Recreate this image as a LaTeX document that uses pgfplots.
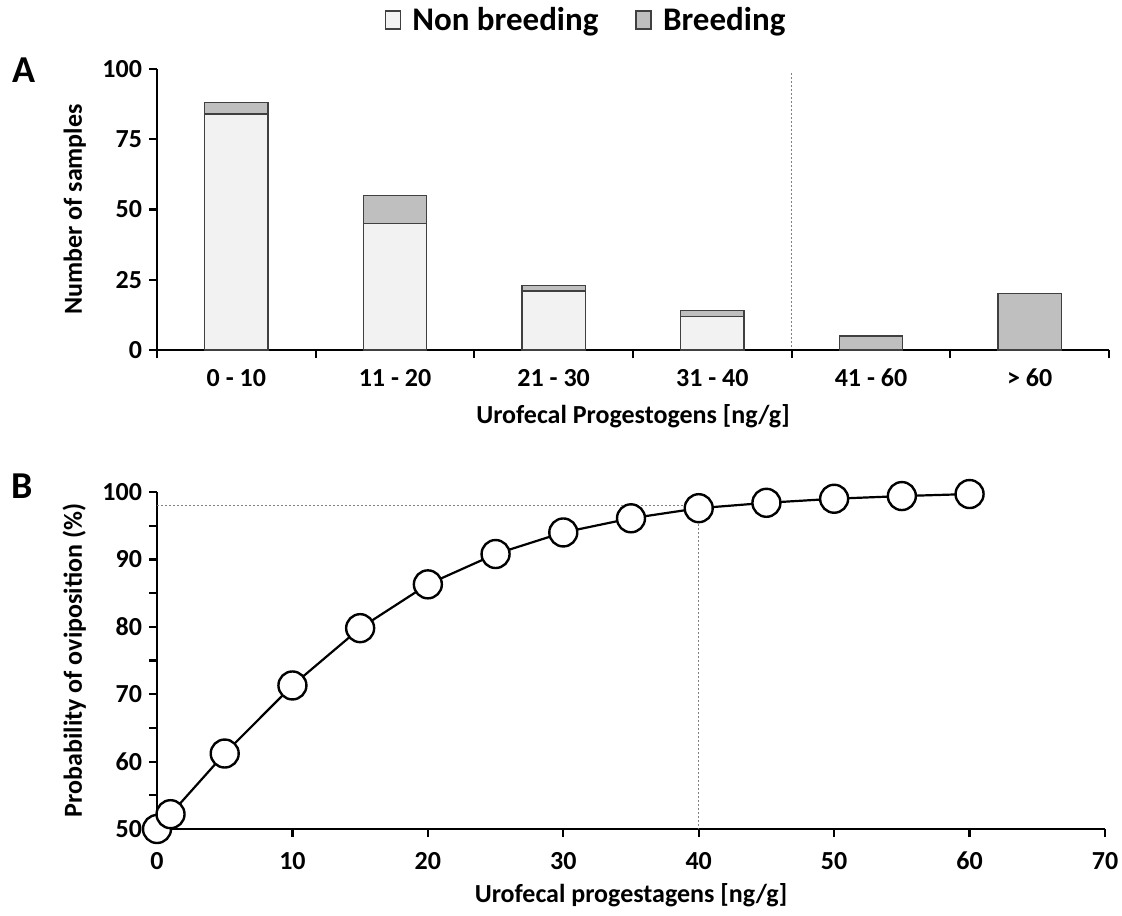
\documentclass[border=0pt]{standalone}
\usepackage{pgfplots}
\pgfplotsset{compat=1.18}
\usepackage{fontspec}
\setmainfont{Carlito}
\definecolor{nb}{HTML}{F2F2F2}
\definecolor{br}{HTML}{BFBFBF}
\definecolor{bd}{HTML}{404040}
\begin{document}
\begin{tikzpicture}[x=1pt,y=1pt]
\pgfplotsset{
  every axis/.style={
    scale only axis,
    axis lines*=left,
    axis line style={line width=1.3pt},
    tick style={line width=1.1pt, black},
    tick align=outside,
    major tick length=4pt,
    tick label style={font=\fontsize{13}{15}\selectfont\bfseries},
    label style={font=\fontsize{13}{15}\selectfont\bfseries},
    /pgf/number format/assume math mode=true,
  }
}
% Panel A
\begin{axis}[
  at={(78.5pt,-175pt)}, anchor=south west,
  width=476pt, height=140.5pt,
  xmin=0, xmax=6, ymin=0, ymax=100,
  ytick={0,25,50,75,100},
  xtick={0,1,2,3,4,5,6},
  xticklabels={},
  extra x ticks={0.5,1.5,2.5,3.5,4.5,5.5},
  extra x tick labels={0 - 10,11 - 20,21 - 30,31 - 40,41 - 60,> 60},
  extra x tick style={major tick length=0pt},
  ybar stacked, bar width=0.4,
  ylabel={Number of samples},
  xlabel={Urofecal Progestogens [ng/g]},
  ylabel style={at={(axis description cs:0,0.5)}, anchor=south, yshift=32pt},
  xlabel style={yshift=2pt},
  xticklabel style={yshift=-6pt},
  legend style={draw=none, fill=none, legend columns=2, at={(0.5,1)}, anchor=center,
    xshift=-23pt, yshift=24.5pt,
    font=\fontsize{16.5}{18}\selectfont\bfseries,
    /tikz/every even column/.append style={column sep=16.5pt}},
  legend image code/.code={\draw[#1, draw=bd, line width=0.7pt] (0pt,-4.5pt) rectangle (7.5pt,4.5pt);
    \path[draw=none, fill=none] (7.5pt,0pt) -- (11.5pt,0pt);},
  clip=false,
]
\addplot[fill=nb, draw=bd, line width=0.6pt] coordinates {(0.5,84) (1.5,45) (2.5,21) (3.5,12) (4.5,0) (5.5,0)};
\addlegendentry{Non breeding}
\addplot[fill=br, draw=bd, line width=0.6pt] coordinates {(0.5,4) (1.5,10) (2.5,2) (3.5,2) (4.5,5) (5.5,20)};
\addlegendentry{Breeding}
\end{axis}
\begin{axis}[
  at={(78.5pt,-175pt)}, anchor=south west,
  width=476pt, height=140.5pt,
  xmin=0, xmax=6, ymin=0, ymax=100,
  axis lines=none, clip=false,
]
\addplot[gray, dash pattern=on 1pt off 1pt, line width=0.5pt] coordinates {(4,1) (4,99)};
\end{axis}
% Panel B
\begin{axis}[
  at={(78.5pt,-414.5pt)}, anchor=south west,
  width=474pt, height=168.5pt,
  xmin=0, xmax=70, ymin=50, ymax=100,
  xtick={0,10,...,70},
  ytick={50,55,...,100},
  yticklabels={50,,60,,70,,80,,90,,100},
  ylabel={Probability of oviposition (\%)},
  xlabel={Urofecal progestagens [ng/g]},
  ylabel style={at={(axis description cs:0,0.5)}, anchor=south, yshift=32pt},
  xlabel style={yshift=0pt},
  xticklabel style={yshift=-4pt},
  clip=false,
]
\addplot[gray, dash pattern=on 1pt off 1pt, line width=0.5pt] coordinates {(0,98) (40,98) (40,50)};
\addplot[black, line width=1.1pt, mark=*, mark size=7pt,
  mark options={fill=white, draw=black, line width=1.2pt}]
  coordinates {(0,50) (1,52.2) (5,61.2) (10,71.3) (15,79.8) (20,86.3) (25,90.8) (30,94.0) (35,96.1) (40,97.6) (45,98.4) (50,99.0) (55,99.4) (60,99.7)};
\end{axis}
\node[font=\fontsize{19}{21}\selectfont\bfseries] at (12pt,-35pt) {A};
\node[font=\fontsize{19}{21}\selectfont\bfseries] at (11pt,-243pt) {B};
\pgfresetboundingbox
\useasboundingbox (0,0) rectangle (561pt,-457.5pt);
\end{tikzpicture}
\end{document}
